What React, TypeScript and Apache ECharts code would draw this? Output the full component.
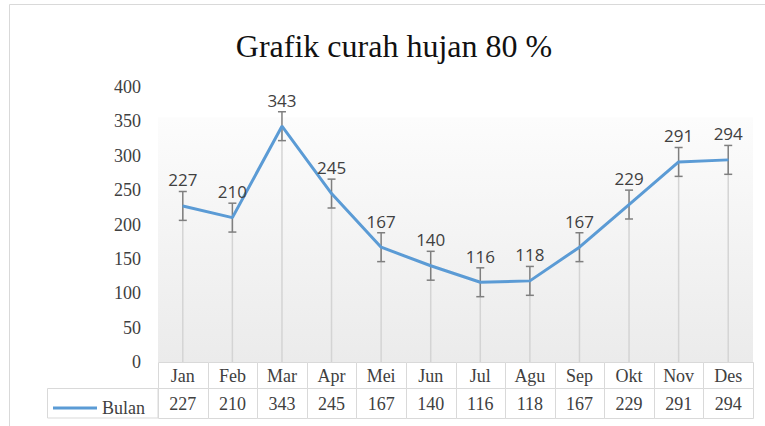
import React, { useEffect, useRef } from "react";
import * as echarts from "echarts";

const months = ["Jan", "Feb", "Mar", "Apr", "Mei", "Jun", "Jul", "Agu", "Sep", "Okt", "Nov", "Des"];
const values = [227, 210, 343, 245, 167, 140, 116, 118, 167, 229, 291, 294];
const errors = [21, 21, 21, 21, 21, 21, 21, 21, 21, 21, 21, 21];
const seriesName = "Bulan";
const titleText = "Grafik curah hujan 80 %";
const yMin = 0;
const yMax = 400;
const yInterval = 50;

const SERIF = "Liberation Serif";
const SANS = "Open Sans";
const GRID_LINE = "#d9d9d9";
const TEXT = "#404040";

export default function App() {
  const ref = useRef<HTMLDivElement>(null);

  useEffect(() => {
    if (!ref.current) return;
    const chart = echarts.init(ref.current, undefined, { renderer: "svg" });

    const tableData = months.map((m, i) => [i, values[i]]);
    const errData = values.map((v, i) => [i, v, errors[i]]);

    const option: any = {
      animation: false,
      backgroundColor: "#ffffff",
      textStyle: { fontFamily: SERIF },
      legend: {
        data: [{ name: seriesName, icon: "rect" }],
        left: 48,
        top: 394,
        itemWidth: 44,
        itemHeight: 3,
        z: 20,
        textStyle: { fontFamily: SERIF, fontSize: 18, color: TEXT },
      },
      graphic: [
        {
          type: "rect",
          z: -10,
          shape: { x: 9.5, y: 4.5, width: 900, height: 600 },
          style: { fill: "none", stroke: GRID_LINE, lineWidth: 1 },
          silent: true,
        },
        {
          type: "rect",
          z: 1,
          shape: { x: 47.5, y: 388.5, width: 110.5, height: 29.5 },
          style: { fill: "#ffffff", stroke: GRID_LINE, lineWidth: 1 },
          silent: true,
        },
        {
          type: "text",
          z: 5,
          x: 394,
          y: 46,
          style: {
            text: titleText,
            fontFamily: SERIF,
            fontSize: 32,
            fill: "#111111",
            align: "center",
            verticalAlign: "middle",
          },
          silent: true,
        },
      ],
      grid: [
        {
          left: 158,
          right: 12,
          top: 87,
          bottom: 64,
          show: true,
          borderWidth: 0,
          backgroundColor: {
            type: "linear",
            x: 0,
            y: 0,
            x2: 0,
            y2: 1,
            colorStops: [
              { offset: 0, color: "#ffffff" },
              { offset: 0.108, color: "#ffffff" },
              { offset: 0.112, color: "#fcfcfc" },
              { offset: 1, color: "#ebebeb" },
            ],
          },
        },
        { left: 158, right: 12, top: 362, bottom: 8 },
      ],
      xAxis: [
        {
          type: "category",
          gridIndex: 0,
          data: months,
          boundaryGap: true,
          axisLine: { show: false },
          axisTick: { show: false },
          axisLabel: { show: false },
          splitLine: { show: false },
        },
        {
          type: "category",
          gridIndex: 1,
          data: months,
          boundaryGap: true,
          show: false,
        },
      ],
      yAxis: [
        {
          type: "value",
          gridIndex: 0,
          min: yMin,
          max: yMax,
          interval: yInterval,
          axisLine: { show: false },
          axisTick: { show: false },
          splitLine: { show: false },
          axisLabel: { margin: 17, fontFamily: SERIF, fontSize: 18, color: TEXT },
        },
        { type: "value", gridIndex: 1, min: 0, max: 56, show: false },
      ],
      series: [
        {
          type: "bar",
          name: "drop",
          xAxisIndex: 0,
          yAxisIndex: 0,
          data: values,
          barWidth: 1.5,
          itemStyle: { color: "#d4d4d4" },
          silent: true,
          z: 1,
        },
        {
          type: "custom",
          name: "err",
          xAxisIndex: 0,
          yAxisIndex: 0,
          data: errData,
          z: 3,
          silent: true,
          renderItem: (params: any, api: any) => {
            const i = api.value(0);
            const v = api.value(1);
            const e = api.value(2);
            const top = api.coord([i, v + e]);
            const bot = api.coord([i, v - e]);
            const x = top[0];
            const style = { stroke: "#7f7f7f", lineWidth: 1.5, fill: "none" };
            return {
              type: "group",
              children: [
                { type: "line", shape: { x1: x, y1: top[1], x2: x, y2: bot[1] }, style },
                { type: "line", shape: { x1: x - 4, y1: top[1], x2: x + 4, y2: top[1] }, style },
                { type: "line", shape: { x1: x - 4, y1: bot[1], x2: x + 4, y2: bot[1] }, style },
              ],
            };
          },
        },
        {
          type: "line",
          name: seriesName,
          xAxisIndex: 0,
          yAxisIndex: 0,
          data: values,
          symbol: "circle",
          symbolSize: 1,
          showSymbol: true,
          z: 5,
          lineStyle: { color: "#5b9bd5", width: 3 },
          itemStyle: { color: "#5b9bd5" },
          label: {
            show: true,
            position: "top",
            distance: 17,
            fontFamily: SANS,
            fontSize: 17,
            color: TEXT,
          },
        },
        {
          type: "custom",
          name: "table",
          xAxisIndex: 1,
          yAxisIndex: 1,
          data: tableData,
          silent: true,
          z: 2,
          renderItem: (params: any, api: any) => {
            const i = api.value(0);
            const v = api.value(1);
            const w = api.size([1, 0])[0];
            const cx = api.coord([i, 0])[0];
            const yTop = api.coord([i, 56])[1];
            const yMid = api.coord([i, 30])[1];
            const yBot = api.coord([i, 0])[1];
            const x0 = Math.round(cx - w / 2) + 0.5;
            const x1 = Math.round(cx + w / 2) + 0.5;
            const cellStyle = { fill: "#ffffff", stroke: GRID_LINE, lineWidth: 1 };
            const textBase = { fontFamily: SERIF, fontSize: 18, fill: TEXT, align: "center", verticalAlign: "middle" };
            return {
              type: "group",
              children: [
                { type: "rect", shape: { x: x0, y: Math.round(yTop) + 0.5, width: x1 - x0, height: Math.round(yMid - yTop) }, style: cellStyle },
                { type: "rect", shape: { x: x0, y: Math.round(yMid) + 0.5, width: x1 - x0, height: Math.round(yBot - yMid) }, style: cellStyle },
                { type: "text", style: { ...textBase, text: months[i], x: cx, y: (yTop + yMid) / 2 + 1 } },
                { type: "text", style: { ...textBase, text: String(v), x: cx, y: (yMid + yBot) / 2 + 1 } },
              ],
            };
          },
        },
      ],
    };

    chart.setOption(option);
    return () => chart.dispose();
  }, []);

  return (
    <div
      ref={ref}
      style={{ position: "fixed", left: 0, top: 0, width: 765, height: 426 }}
    />
  );
}
